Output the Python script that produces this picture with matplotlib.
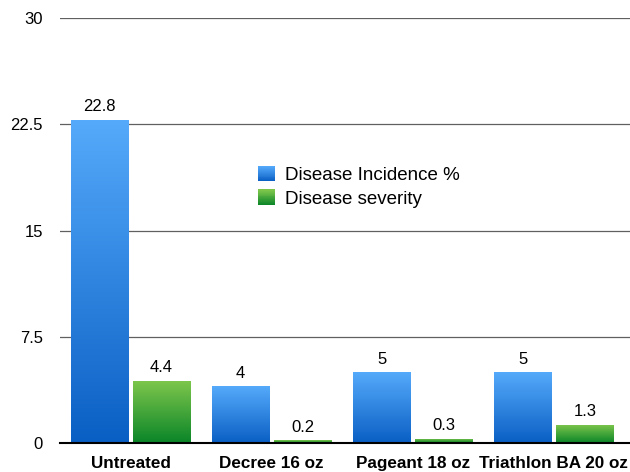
import numpy as np
import matplotlib
matplotlib.use("Agg")
from matplotlib import pyplot as plt
from matplotlib.colors import LinearSegmentedColormap
from matplotlib.patches import Patch, Rectangle
from matplotlib.legend_handler import HandlerBase

plt.rcParams['font.family'] = ['Liberation Sans', 'DejaVu Sans']

treatments = ["Untreated", "Decree 16 oz", "Pageant 18 oz", "Triathlon BA 20 oz"]
incidence = [22.8, 4, 5, 5]
severity = [4.4, 0.2, 0.3, 1.3]
incidence_labels = ["22.8", "4", "5", "5"]
severity_labels = ["4.4", "0.2", "0.3", "1.3"]
yticks = [0, 7.5, 15, 22.5, 30]
ytick_labels = ["0", "7.5", "15", "22.5", "30"]

blue_cmap = LinearSegmentedColormap.from_list("b", ["#0a5fc4", "#55aafb"])
green_cmap = LinearSegmentedColormap.from_list("g", ["#0a8528", "#7fc74c"])


class GradHandler(HandlerBase):
    # legend square drawn as stacked strips to mimic the gradient
    def __init__(self, cmap):
        super().__init__()
        self.cmap = cmap

    def create_artists(self, legend, orig_handle, xdescent, ydescent,
                       width, height, fontsize, trans):
        n = 16
        arts = []
        for i in range(n):
            r = Rectangle((-xdescent, -ydescent + height * i / n), width, height / n + 0.3,
                          facecolor=self.cmap((i + 0.5) / n), edgecolor="none",
                          transform=trans)
            arts.append(r)
        return arts


fig = plt.figure(figsize=(6.3, 4.72), dpi=100)
ax = fig.add_axes([60/630, 1 - 443/472, 570/630, 425/472])

x = np.arange(len(treatments))
w = 0.41
off = 0.22

bars_b = ax.bar(x - off, incidence, w, color="#2f84e0", zorder=3)
bars_g = ax.bar(x + off, severity, w, color="#3fa33a", zorder=3)

grad = np.linspace(0, 1, 256).reshape(-1, 1)
for bars, cmap in [(bars_b, blue_cmap), (bars_g, green_cmap)]:
    for p in bars:
        x0, y0 = p.get_x(), p.get_y()
        x1, y1 = x0 + p.get_width(), y0 + p.get_height()
        im = ax.imshow(grad, cmap=cmap, origin="lower", aspect="auto",
                       extent=[x0, x1, y0, y1], zorder=4)
        im.set_clip_path(p)

for bars, labels in [(bars_b, incidence_labels), (bars_g, severity_labels)]:
    for p, lab in zip(bars, labels):
        ax.annotate(lab, (p.get_x() + p.get_width() / 2, p.get_height()),
                    xytext=(0, 4), textcoords="offset points",
                    ha="center", va="bottom", fontsize=12, zorder=5)

ax.set_xlim(-0.5, 3.54)
ax.set_ylim(0, 30)
ax.set_yticks(yticks)
ax.set_yticklabels(ytick_labels, fontsize=12)
ax.set_xticks(x)
ax.set_xticklabels(treatments, fontsize=12.3, fontweight="bold")
ax.tick_params(length=0)
ax.tick_params(axis="y", pad=12.2)
ax.tick_params(axis="x", pad=9.3)
ax.grid(axis="y", color="#606060", linewidth=0.9, zorder=0)
for s in ["top", "right", "left"]:
    ax.spines[s].set_visible(False)
ax.spines["bottom"].set_linewidth(1.5)
ax.spines["bottom"].set_zorder(6)

h_b = Patch(label="Disease Incidence %")
h_g = Patch(label="Disease severity")
fig.legend(handles=[h_b, h_g], loc="upper left",
           bbox_to_anchor=(258/630, 1 - 166/472),
           handler_map={h_b: GradHandler(blue_cmap), h_g: GradHandler(green_cmap)},
           frameon=False, fontsize=13.5, handlelength=0.88, handleheight=0.88,
           handletextpad=0.58, labelspacing=0.3, borderpad=0, borderaxespad=0)

fig.savefig("out.png", dpi=100)
